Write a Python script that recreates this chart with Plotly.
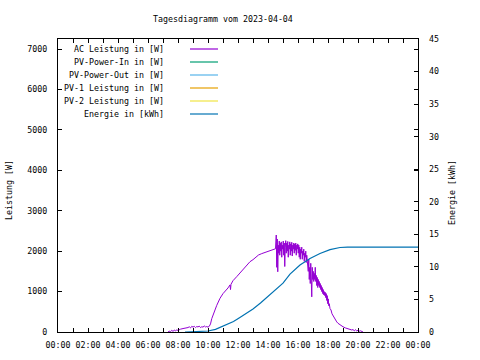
import plotly.graph_objects as go

DAY = "2023-04-04"

# AC Leistung [W] (time HH:MM, value)
ac_times = ["07:20","07:25","07:30","07:35","07:40","07:45","07:50","07:55","08:00","08:05","08:10","08:20","08:30","08:40","08:45","08:50","08:55","09:00","09:05","09:10","09:15","09:20","09:25","09:30","09:35","09:40","09:45","09:50","09:55","10:00","10:05","10:10","10:15","10:20","10:28","10:35","10:48","11:00","11:08","11:20","11:28","11:30","11:32","11:40","11:55","12:10","12:22","12:35","12:48","13:00","13:12","13:22","13:35","13:55","14:10","14:22","14:30",
            "14:33","14:35","14:37","14:39","14:41","14:43","14:45","14:47","14:49","14:51","14:53","14:55","14:57","14:59","15:01","15:03","15:05","15:07","15:09","15:11","15:13","15:15","15:17","15:19","15:21","15:23","15:25","15:27","15:29","15:31","15:33","15:35","15:37","15:39","15:41","15:43","15:45","15:47","15:49","15:51","15:53","15:55","15:57","15:59","16:01","16:03","16:05","16:07","16:09","16:11","16:13","16:15","16:17","16:19","16:21","16:23","16:25","16:27","16:29","16:31","16:33","16:35","16:37","16:39","16:41","16:43","16:45","16:47","16:49","16:51","16:53","16:55","16:57","16:59","17:01","17:03","17:05","17:07","17:09","17:11","17:13","17:15","17:17","17:19","17:21","17:23","17:25","17:27","17:29","17:31","17:33","17:35","17:37","17:39","17:41","17:43","17:45","17:47","17:49","17:51","17:53","17:55","17:57","17:59","18:01","18:03","18:05","18:08","18:12","18:16","18:20","18:25","18:30","18:35","18:40","18:45","18:50","18:55","19:00","19:10","19:20","19:28","19:35","19:40","19:45","19:50","19:55","20:00","20:05","20:10","20:15","20:20"]
ac_values = [0,20,10,40,15,45,30,50,40,60,70,85,90,110,130,100,140,120,140,110,135,125,145,110,130,120,150,125,135,120,140,200,330,430,545,660,834,950,1000,1090,1165,1050,1180,1270,1370,1480,1575,1660,1740,1790,1850,1905,1940,1990,2010,2045,2060,
             2400,1600,2300,1490,2150,1950,2250,1900,2200,2000,2230,1850,2150,2050,2250,1900,2200,1620,2100,2260,1950,2200,2000,2240,1850,2150,2050,2230,1900,2180,2000,2220,1880,2150,2050,2200,1950,2180,2020,2200,1900,2150,2050,2180,1950,2150,1850,2100,1800,2050,1950,2100,1800,2000,1900,2050,1750,1950,1850,2000,1720,1900,1800,1700,1500,1800,1300,1600,1200,1700,1400,870,1600,1300,1500,1250,1450,1300,1600,1250,1400,1150,1350,1100,1300,1150,1250,1100,1200,1050,1150,1000,1100,950,1050,920,1000,900,980,850,950,780,900,700,820,650,700,580,545,450,400,340,290,250,215,190,170,150,130,100,80,66,50,60,30,55,25,45,20,30,5,0]

# Energie [kWh]
en_times = ["08:28","09:00","09:30","10:00","10:30","10:48","11:15","11:42","12:06","12:36","13:00","13:30","13:54","14:28","15:00","15:28","16:08","16:48","17:28","18:08","18:48","19:18","24:00"]
en_values = [0.0,0.03,0.07,0.15,0.4,0.7,1.15,1.6,2.2,2.9,3.55,4.45,5.25,6.4,7.5,8.9,10.3,11.3,12.05,12.66,12.98,13.05,13.05]

legend_names = ["AC Leistung in [W]", "PV-Power-In in [W]", "PV-Power-Out in [W]",
                "PV-1 Leistung in [W]", "PV-2 Leistung in [W]", "Energie in [kWh]"]
legend_colors = ["#9400D3", "#009E73", "#56B4E9", "#E69F00", "#F0E442", "#0072B2"]

x_ticks = ["00:00","02:00","04:00","06:00","08:00","10:00","12:00","14:00","16:00","18:00","20:00","22:00","24:00"]


def ts(hm):
    h, m = hm.split(":")
    if h == "24":
        return "2023-04-05 00:%s:00" % m
    return "%s %s:%s:00" % (DAY, h, m)


FONT = "DejaVu Sans Mono"
FS = 8.3

fig = go.Figure()
fig.add_trace(go.Scatter(x=[ts(t) for t in ac_times], y=ac_values, mode="lines",
                         line=dict(color=legend_colors[0], width=1), showlegend=False))
fig.add_trace(go.Scatter(x=[ts(t) for t in en_times], y=en_values, mode="lines",
                         line=dict(color=legend_colors[5], width=1.2), yaxis="y2", showlegend=False))

W, H = 480, 360
L, R, T, B = 58, 62, 39, 28
pw, ph = W - L - R, H - T - B

def px(x):
    return (x - L) / pw

def py(y):
    return (H - B - y) / ph

ann = []
shapes = []
for i, (n, c) in enumerate(zip(legend_names, legend_colors)):
    yy = 49 + i * 13
    ann.append(dict(text=n, x=px(166), y=py(yy), xref="paper", yref="paper",
                    xanchor="right", yanchor="middle", showarrow=False,
                    font=dict(family=FONT, size=FS, color="black")))
    shapes.append(dict(type="line", xref="paper", yref="paper", x0=px(190), x1=px(218),
                       y0=py(yy), y1=py(yy), line=dict(color=c, width=1.2)))

ann.append(dict(text="Tagesdiagramm vom 2023-04-04", x=px(223), y=py(19), xref="paper", yref="paper",
                xanchor="center", yanchor="middle", showarrow=False,
                font=dict(family=FONT, size=FS, color="black")))
ann.append(dict(text="Leistung [W]", x=px(9), y=py(190), xref="paper", yref="paper",
                xanchor="center", yanchor="middle", showarrow=False, textangle=-90,
                font=dict(family=FONT, size=FS, color="black")))
ann.append(dict(text="Energie [kWh]", x=px(452), y=py(193), xref="paper", yref="paper",
                xanchor="center", yanchor="middle", showarrow=False, textangle=-90,
                font=dict(family=FONT, size=FS, color="black")))

tickvals = [ts(t) for t in x_ticks]
ticktext = [t if t != "24:00" else "00:00" for t in x_ticks]

fig.update_layout(
    width=W, height=H,
    margin=dict(l=L, r=R, t=T, b=B, autoexpand=False),
    paper_bgcolor="white", plot_bgcolor="white",
    font=dict(family=FONT, size=FS, color="black"),
    showlegend=False,
    annotations=ann, shapes=shapes,
    xaxis=dict(type="date", range=[ts("00:00"), ts("24:00")], tickvals=tickvals, ticktext=ticktext,
               ticks="inside", ticklen=4, tickcolor="black", showline=True, linecolor="black",
               linewidth=1, mirror="ticks", showgrid=False, zeroline=False, ticklabelstandoff=5,
               automargin=False,
               minor=dict(dtick=3600000, ticks="inside", ticklen=4, tickcolor="black", showgrid=False),
               tickfont=dict(family=FONT, size=FS)),
    yaxis=dict(range=[0, 7250], tickvals=[0,1000,2000,3000,4000,5000,6000,7000],
               ticks="inside", ticklen=4, tickcolor="black", showline=True, linecolor="black",
               linewidth=1, mirror="ticks", showgrid=False, zeroline=False, ticklabelstandoff=8,
               automargin=False, tickfont=dict(family=FONT, size=FS)),
    yaxis2=dict(range=[0, 45], tickvals=[0,5,10,15,20,25,30,35,40,45], overlaying="y", side="right",
                ticks="inside", ticklen=4, tickcolor="black", showline=False, showgrid=False,
                zeroline=False, ticklabelstandoff=10, automargin=False,
                tickfont=dict(family=FONT, size=FS)),
)

fig.write_html("out.html", config={"displayModeBar": False},
               post_script="document.body.style.margin='0px';document.body.style.overflow='hidden';")
